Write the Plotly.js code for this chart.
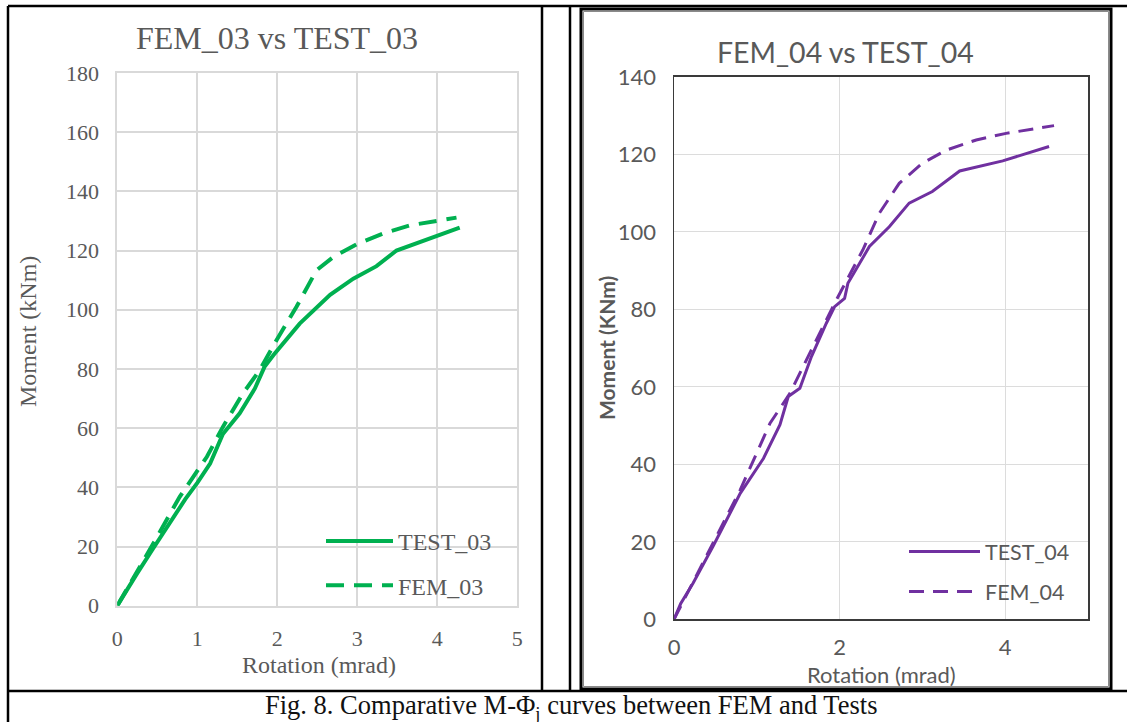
<!DOCTYPE html>
<html>
<head>
<meta charset="utf-8">
<script src="https://cdn.plot.ly/plotly-3.0.1.min.js"></script>
<style>
html,body{margin:0;padding:0;background:#fff;}
#chart{width:1127px;height:722px;}
</style>
</head>
<body>
<div id="chart"></div>
<script>
// ---- Data ----
const test03X = [0, 0.1, 0.25, 0.45, 0.65, 0.85, 1.0, 1.16, 1.32, 1.53, 1.72, 1.84, 1.95, 2.28, 2.66, 2.95, 3.24, 3.49, 4.28];
const test03Y = [0, 4.5, 11, 19.4, 28, 36, 41.5, 48, 58, 65, 73.4, 80.7, 84.6, 95.3, 105, 110.5, 114.7, 120, 127.7];
const fem03X = [0, 0.2, 0.45, 0.78, 1.12, 1.32, 1.57, 1.78, 1.99, 2.24, 2.49, 2.70, 2.99, 3.32, 3.66, 4.24];
const fem03Y = [0, 9.2, 21, 36.8, 50.3, 60.4, 71.7, 79.6, 89.7, 101, 113.3, 117.8, 122.1, 125.7, 128.5, 131.1];

const test04X = [0, 0.08, 0.23, 0.47, 0.80, 1.08, 1.28, 1.38, 1.52, 1.66, 1.84, 1.94, 2.06, 2.10, 2.36, 2.60, 2.84, 3.12, 3.45, 3.97, 4.53];
const test04Y = [0, 4, 9.3, 18.8, 32.5, 41.5, 50.2, 57.5, 59.6, 67.8, 76.4, 80.7, 82.8, 86.7, 96.2, 101.3, 107.4, 110.4, 115.7, 118.3, 122];
const fem04X = [0, 0.35, 0.80, 1.16, 1.40, 1.68, 1.96, 2.28, 2.48, 2.72, 3.00, 3.29, 3.65, 4.01, 4.59];
const fem04Y = [0, 14.5, 33.4, 50.6, 58.3, 70.4, 82.4, 95.3, 104.8, 112.5, 117.7, 121.1, 123.7, 125.4, 127.4];

const leftYTicks = [0, 20, 40, 60, 80, 100, 120, 140, 160, 180];
const leftXTicks = [0, 1, 2, 3, 4, 5];
const rightYTicks = [0, 20, 40, 60, 80, 100, 120, 140];
const rightXTicks = [0, 2, 4];

const names = ['TEST_03', 'FEM_03', 'TEST_04', 'FEM_04'];
const titles = ['FEM_03 vs TEST_03', 'FEM_04 vs TEST_04'];
const caption = 'Fig. 8. Comparative M-Φ<sub>j</sub> curves between FEM and Tests';

// ---- Layout helpers ----
const W = 1127, H = 722;
const px = v => v / W;
const py = v => 1 - v / H;
const GREEN = '#00b050', PURPLE = '#7030a0', GREY = '#595959';
const SERIF = 'Liberation Serif, Times New Roman, serif';
const SANS = 'Lato, sans-serif';

const traces = [
  {x: test03X, y: test03Y, name: names[0], type: 'scatter', mode: 'lines', xaxis: 'x', yaxis: 'y',
   line: {color: GREEN, width: 4}, legend: 'legend', legendgroup: 'a'},
  {x: fem03X, y: fem03Y, name: names[1], type: 'scatter', mode: 'lines', xaxis: 'x', yaxis: 'y',
   line: {color: GREEN, width: 4, dash: '18px,10px'}, legend: 'legend', legendgroup: 'b'},
  {x: test04X, y: test04Y, name: names[2], type: 'scatter', mode: 'lines', xaxis: 'x2', yaxis: 'y2',
   line: {color: PURPLE, width: 3}, legend: 'legend2', legendgroup: 'c'},
  {x: fem04X, y: fem04Y, name: names[3], type: 'scatter', mode: 'lines', xaxis: 'x2', yaxis: 'y2',
   line: {color: PURPLE, width: 3, dash: '15px,9px'}, legend: 'legend2', legendgroup: 'd'}
];

function line(x0, y0, x1, y1, w, c) {
  return {type: 'line', xref: 'paper', yref: 'paper', x0: px(x0), y0: py(y0), x1: px(x1), y1: py(y1),
          line: {color: c || '#000', width: w}};
}

const shapes = [
  line(8, 6, W, 6, 2.5),
  line(8, 6, 8, H, 2.5),
  line(542, 6, 542, 691, 2.5),
  line(570, 6, 570, 691, 2.5),
  line(8, 691, W, 691, 2.5),
  {type: 'rect', xref: 'paper', yref: 'paper', x0: px(581), x1: px(1111), y0: py(689), y1: py(9),
   line: {color: '#000', width: 3}},
  {type: 'rect', xref: 'paper', yref: 'paper', x0: px(583.5), x1: px(1108.5), y0: py(686.5), y1: py(11.5),
   line: {color: '#8a8a8a', width: 1}}
];

const annotations = [
  {text: titles[0], xref: 'paper', yref: 'paper', x: px(277), y: py(38), xanchor: 'center', yanchor: 'middle',
   showarrow: false, font: {family: SERIF, size: 32, color: GREY}},
  {text: titles[1], xref: 'paper', yref: 'paper', x: px(845), y: py(52), xanchor: 'center', yanchor: 'middle',
   showarrow: false, font: {family: SANS, size: 28.5, color: GREY}},
  {text: 'Rotation (mrad)', xref: 'paper', yref: 'paper', x: px(319), y: py(665), xanchor: 'center', yanchor: 'middle',
   showarrow: false, font: {family: SERIF, size: 24, color: GREY}},
  {text: 'Moment (kNm)', xref: 'paper', yref: 'paper', x: px(28), y: py(332), xanchor: 'center', yanchor: 'middle',
   textangle: -90, showarrow: false, font: {family: SERIF, size: 24, color: GREY}},
  {text: 'Rotation (mrad)', xref: 'paper', yref: 'paper', x: px(881), y: py(674), xanchor: 'center', yanchor: 'middle',
   showarrow: false, font: {family: SANS, size: 22, color: GREY}},
  {text: '<b>Moment (KNm)</b>', xref: 'paper', yref: 'paper', x: px(606), y: py(348), xanchor: 'center', yanchor: 'middle',
   textangle: -90, showarrow: false, font: {family: SANS, size: 21, color: GREY}},
  {text: caption, xref: 'paper', yref: 'paper', x: px(571), y: py(689), xanchor: 'center', yanchor: 'top',
   borderpad: 0, showarrow: false, font: {family: SERIF, size: 26.5, color: '#111'}}
];

const layout = {
  width: W, height: H,
  margin: {l: 0, r: 0, t: 0, b: 0, pad: 0},
  paper_bgcolor: '#fff', plot_bgcolor: '#fff',
  showlegend: true,
  xaxis: {domain: [px(117.3), px(517.3)], range: [0, 5], tickvals: leftXTicks, ticktext: leftXTicks.map(String),
          showgrid: true, gridcolor: '#d9d9d9', gridwidth: 2, zeroline: false,
          showline: true, linecolor: '#d9d9d9', linewidth: 2, mirror: true,
          ticks: '', ticklabelstandoff: 12, tickfont: {family: SERIF, size: 22, color: GREY}, fixedrange: true},
  yaxis: {domain: [py(605.7), py(72.9)], range: [0, 180], tickvals: leftYTicks, ticktext: leftYTicks.map(String),
          showgrid: true, gridcolor: '#d9d9d9', gridwidth: 2, zeroline: false,
          showline: true, linecolor: '#d9d9d9', linewidth: 2, mirror: true,
          ticks: '', ticklabelstandoff: 12, tickfont: {family: SERIF, size: 22, color: GREY}, fixedrange: true},
  xaxis2: {domain: [px(674), px(1088)], range: [0, 5], tickvals: rightXTicks, ticktext: rightXTicks.map(String),
           anchor: 'y2', showgrid: true, gridcolor: '#dcdcdc', gridwidth: 1.3, zeroline: false,
           showline: true, linecolor: '#3a3a3a', linewidth: 1.5, mirror: true,
           ticks: '', ticklabelstandoff: 8, tickfont: {family: SANS, size: 22, color: GREY}, fixedrange: true},
  yaxis2: {domain: [py(619.3), py(76.8)], range: [0, 140], tickvals: rightYTicks, ticktext: rightYTicks.map(String),
           anchor: 'x2', showgrid: true, gridcolor: '#dcdcdc', gridwidth: 1.3, zeroline: false,
           showline: true, linecolor: '#3a3a3a', linewidth: 1.5, mirror: true,
           ticks: '', ticklabelstandoff: 12, tickfont: {family: SANS, size: 22, color: GREY}, fixedrange: true},
  legend: {x: px(321), y: py(519), xanchor: 'left', yanchor: 'top', bgcolor: 'rgba(0,0,0,0)',
           itemwidth: 67, tracegroupgap: 10, traceorder: 'grouped',
           font: {family: SERIF, size: 24, color: GREY}},
  legend2: {x: px(904), y: py(531), xanchor: 'left', yanchor: 'top', bgcolor: 'rgba(0,0,0,0)',
            itemwidth: 71, tracegroupgap: 9, traceorder: 'grouped',
            font: {family: SANS, size: 21.5, color: GREY}},
  shapes: shapes,
  annotations: annotations
};

Plotly.newPlot('chart', traces, layout, {displayModeBar: false, staticPlot: true});
</script>
</body>
</html>
